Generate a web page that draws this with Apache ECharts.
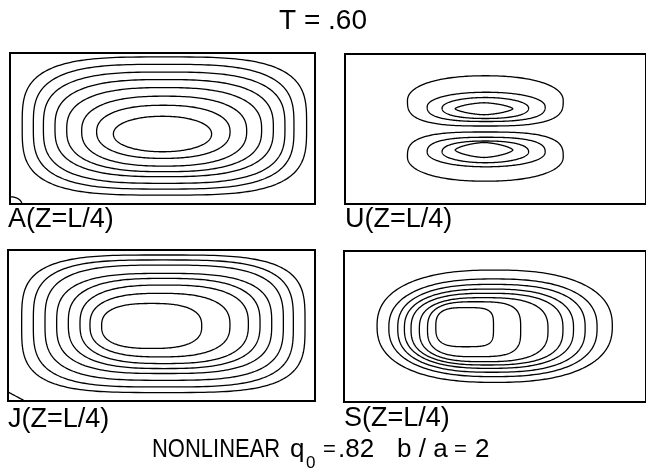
<!DOCTYPE html>
<html><head><meta charset="utf-8">
<script src="https://cdn.jsdelivr.net/npm/echarts@6/dist/echarts.min.js"></script>
<style>html,body{margin:0;padding:0;background:#fff}#c{width:646px;height:472px}</style>
</head><body><div id="c"></div>
<script>
// ---- text ----
const titleText = 'T = .60';
const panelLabels = ['A(Z=L/4)', 'U(Z=L/4)', 'J(Z=L/4)', 'S(Z=L/4)'];
const captionParts = ['NONLINEAR', 'q', '0', '=', '.82', 'b / a', '=', '2'];

// ---- contours ----
// each row: [left, right, bottom, top, shape top-right, top-left, bottom-left, bottom-right]
// x in 0..2 (b/a = 2), y in 0..1
const aContours = [
  [0.080, 1.945, 0.059, 0.974, 3.4, 3.4, 3.4, 3.4],
  [0.153, 1.862, 0.099, 0.925, 3.2, 3.2, 3.2, 3.2],
  [0.219, 1.803, 0.137, 0.874, 3.0, 3.0, 3.0, 3.0],
  [0.295, 1.727, 0.181, 0.824, 2.8, 2.8, 2.8, 2.8],
  [0.372, 1.650, 0.214, 0.771, 2.6, 2.6, 2.6, 2.6],
  [0.470, 1.552, 0.251, 0.714, 2.45, 2.45, 2.45, 2.45],
  [0.568, 1.443, 0.302, 0.654, 2.3, 2.3, 2.3, 2.3],
  [0.678, 1.322, 0.346, 0.581, 2.1, 2.1, 2.1, 2.1],
  [-0.077, 0.077, -0.048, 0.048, 2, 2, 2, 2]
];
const uContours = [
  [0.415, 1.450, 0.520, 0.855, 2.2, 2.2, 3.0, 3.0],
  [0.546, 1.330, 0.550, 0.745, 2.1, 2.1, 2.6, 2.6],
  [0.645, 1.220, 0.570, 0.710, 2.0, 2.0, 2.3, 2.3],
  [0.732, 1.115, 0.595, 0.675, 1.5, 1.5, 1.5, 1.5],
  [0.415, 1.450, 0.152, 0.480, 3.0, 3.0, 2.2, 2.2],
  [0.546, 1.330, 0.248, 0.445, 2.6, 2.6, 2.1, 2.1],
  [0.645, 1.220, 0.275, 0.420, 2.3, 2.3, 2.0, 2.0],
  [0.732, 1.115, 0.310, 0.410, 1.5, 1.5, 1.5, 1.5]
];
const jContours = [
  [0.089, 1.935, 0.056, 0.967, 3.6, 3.6, 3.6, 3.6],
  [0.165, 1.859, 0.093, 0.934, 3.4, 3.4, 3.4, 3.4],
  [0.241, 1.794, 0.137, 0.900, 3.2, 3.2, 3.2, 3.2],
  [0.317, 1.718, 0.182, 0.845, 3.0, 3.0, 3.0, 3.0],
  [0.393, 1.642, 0.215, 0.812, 2.8, 2.8, 2.8, 2.8],
  [0.469, 1.566, 0.248, 0.768, 2.7, 2.7, 2.7, 2.7],
  [0.534, 1.446, 0.292, 0.713, 2.6, 2.6, 2.6, 2.6],
  [0.610, 1.262, 0.348, 0.646, 2.6, 2.6, 2.6, 2.6],
  [-0.110, 0.110, -0.060, 0.060, 1, 1, 1, 1]
];
const sContours = [
  [0.219, 1.777, 0.130, 0.874, 2.4, 2.4, 2.4, 2.4],
  [0.297, 1.676, 0.168, 0.815, 2.5, 2.4, 2.4, 2.5],
  [0.356, 1.597, 0.197, 0.779, 2.6, 2.5, 2.5, 2.6],
  [0.400, 1.520, 0.223, 0.748, 2.6, 2.5, 2.5, 2.6],
  [0.444, 1.450, 0.245, 0.720, 2.7, 2.6, 2.6, 2.7],
  [0.499, 1.351, 0.267, 0.691, 2.8, 2.7, 2.7, 2.8],
  [0.553, 1.170, 0.300, 0.664, 3.5, 2.8, 2.8, 3.5],
  [0.608, 0.990, 0.366, 0.625, 4.0, 3.0, 3.0, 4.0]
];
const xRange = [0, 2];
const yRange = [0, 1];

// ---- layout ----
const grids = [
  { left: 10, top: 53, width: 305, height: 151 },
  { left: 345, top: 54, width: 305, height: 150 },
  { left: 8, top: 250, width: 307, height: 151 },
  { left: 344, top: 251, width: 305, height: 151 }
];
const labelPos = [[8, 220], [345, 220], [8, 420], [344, 419]];
const panelData = [aContours, uContours, jContours, sContours];

function contourItem(params, api) {
  const L = api.value(0), R = api.value(1), B = api.value(2), T = api.value(3);
  const nq = [api.value(4), api.value(5), api.value(6), api.value(7)];
  const cx = (L + R) / 2, cy = (B + T) / 2;
  const pts = [];
  const N = 240;
  for (let i = 0; i < N; i++) {
    const t = 2 * Math.PI * i / N;
    const c = Math.cos(t), s = Math.sin(t);
    const q = c >= 0 ? (s >= 0 ? 0 : 3) : (s >= 0 ? 1 : 2);
    const e = 2 / nq[q];
    const x = cx + (c >= 0 ? R - cx : cx - L) * Math.sign(c) * Math.pow(Math.abs(c), e);
    const y = cy + (s >= 0 ? T - cy : cy - B) * Math.sign(s) * Math.pow(Math.abs(s), e);
    pts.push(api.coord([x, y]));
  }
  return {
    type: 'polygon',
    shape: { points: pts },
    style: { fill: 'none', stroke: '#000', lineWidth: 1.3 }
  };
}

const font = '"Liberation Sans", Arial, sans-serif';
function txt(text, x, y, size, extra) {
  return Object.assign({
    type: 'text', x: x, y: y,
    style: { text: text, font: size + 'px ' + font, fill: '#000', align: 'left', verticalAlign: 'middle' }
  }, extra || {});
}
const graphic = [
  { type: 'text', x: 323, y: 21, style: { text: titleText, font: '28px ' + font, fill: '#000', align: 'center', verticalAlign: 'middle' } }
];
panelLabels.forEach((t, i) => graphic.push(txt(t, labelPos[i][0], labelPos[i][1], 27)));
graphic.push(txt(captionParts[0], 152, 450, 26, { scaleX: 0.845 }));
graphic.push(txt(captionParts[1], 290, 450, 26));
graphic.push(txt(captionParts[2], 306, 463, 17));
graphic.push(txt(captionParts[3], 323, 450, 22));
graphic.push(txt(captionParts[4], 338, 450, 26));
graphic.push(txt(captionParts[5], 397, 450, 26));
graphic.push(txt(captionParts[6], 454, 450, 22));
graphic.push(txt(captionParts[7], 475, 450, 26));

const option = {
  animation: false,
  backgroundColor: '#fff',
  grid: grids.map(g => Object.assign({ show: true, borderColor: '#000', borderWidth: 2, backgroundColor: 'transparent', containLabel: false }, g)),
  xAxis: grids.map((g, i) => ({ type: 'value', gridIndex: i, min: xRange[0], max: xRange[1], show: false })),
  yAxis: grids.map((g, i) => ({ type: 'value', gridIndex: i, min: yRange[0], max: yRange[1], show: false })),
  series: panelData.map((d, i) => ({
    type: 'custom',
    xAxisIndex: i,
    yAxisIndex: i,
    clip: true,
    silent: true,
    renderItem: contourItem,
    encode: { x: [0, 1], y: [2, 3] },
    data: d
  })),
  graphic: graphic
};
const chart = echarts.init(document.getElementById('c'), null, { renderer: 'canvas' });
chart.setOption(option);
</script>
</body></html>
